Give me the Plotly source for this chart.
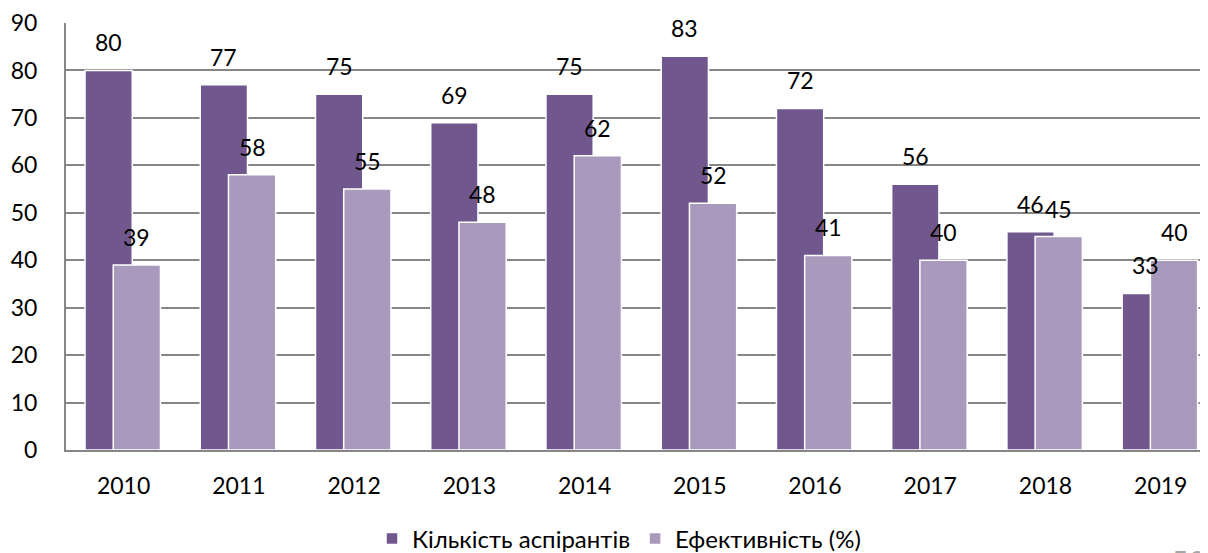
import plotly.graph_objects as go

years = ["2010", "2011", "2012", "2013", "2014", "2015", "2016", "2017", "2018", "2019"]
aspirants = [80, 77, 75, 69, 75, 83, 72, 56, 46, 33]
efficiency = [39, 58, 55, 48, 62, 52, 41, 40, 45, 40]
y_ticks = [0, 10, 20, 30, 40, 50, 60, 70, 80, 90]

name_dark = "Кількість аспірантів"
name_light = "Ефективність (%)"
dark = "#70588F"
light = "#A899BD"
font_family = "Lato, 'Open Sans', sans-serif"

# the page body adds an 8px offset, so the figure is sized to fill the window
OFF = 8
W, H = 1208 - OFF, 553 - OFF
L, T = 66 - OFF, 23 - OFF
BOTTOM = 450 - OFF
B = H - BOTTOM
PW, PH = W - L, BOTTOM - T

xs = list(range(len(years)))
w = 0.41
off_dark = -0.335
off_light = -0.09

fig = go.Figure()
fig.add_trace(go.Bar(
    x=xs, y=aspirants, name=name_dark, width=w, offset=off_dark,
    marker=dict(color=dark, line=dict(color="white", width=1.5)),
))
fig.add_trace(go.Bar(
    x=xs, y=efficiency, name=name_light, width=w, offset=off_light,
    marker=dict(color=light, line=dict(color="white", width=1.5)),
))

annotations = []
for i, v in enumerate(aspirants):
    annotations.append(dict(x=i + off_dark + w / 2, y=v, xref="x", yref="y", text=str(v),
                            showarrow=False, yanchor="middle", yshift=28,
                            font=dict(size=23, color="#000000", family=font_family)))
for i, v in enumerate(efficiency):
    annotations.append(dict(x=i + off_light + w / 2, y=v, xref="x", yref="y", text=str(v),
                            showarrow=False, yanchor="middle", yshift=28,
                            font=dict(size=23, color="#000000", family=font_family)))
annotations.append(dict(x=(1188 - OFF - L) / PW, y=-(541 - OFF - BOTTOM) / PH,
                        xref="paper", yref="paper",
                        text="53", showarrow=False, xanchor="center", yanchor="top",
                        font=dict(size=30, color="#A6A6A6", family=font_family)))

fig.update_layout(
    width=W, height=H,
    margin=dict(l=L, r=0, t=T, b=B, pad=0, autoexpand=False),
    barmode="overlay",
    paper_bgcolor="white", plot_bgcolor="white",
    font=dict(family=font_family, size=23, color="#000000"),
    xaxis=dict(
        range=[-0.5, 9.41], tickmode="array", tickvals=xs, ticktext=years,
        showgrid=False, zeroline=False, showline=True, linecolor="#868686", linewidth=2,
        tickfont=dict(size=23), ticks="", automargin=False, ticklabelstandoff=14,
    ),
    yaxis=dict(
        range=[0, 90], tickmode="array", tickvals=y_ticks,
        showgrid=True, gridcolor="#868686", gridwidth=1.5, zeroline=False,
        showline=True, linecolor="#868686", linewidth=2,
        tickfont=dict(size=23), ticks="", ticklabelstandoff=22, automargin=False,
    ),
    legend=dict(orientation="h", x=(619 - OFF - L) / PW, xanchor="center",
                y=-(539 - OFF - BOTTOM) / PH, yanchor="middle",
                font=dict(size=24), traceorder="normal"),
    annotations=annotations,
    showlegend=True,
)

fig.write_html("out.html")
